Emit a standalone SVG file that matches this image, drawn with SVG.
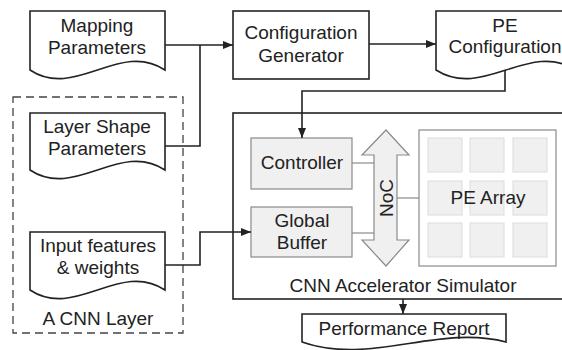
<svg xmlns="http://www.w3.org/2000/svg" width="562" height="350" viewBox="0 0 562 350">
  <style>
    text { font-family: "Liberation Sans", Arial, sans-serif; font-size: 19px; fill: #222; text-anchor: middle; }
    .doc { fill: #fff; stroke: #222; stroke-width: 1.6; }
    .box { fill: #fff; stroke: #222; stroke-width: 1.6; }
    .unit { fill: #f0f0f0; stroke: #8a8a8a; stroke-width: 1.2; }
    .cell { fill: #f0f0f0; stroke: #dcdcdc; stroke-width: 1; }
    .wire { fill: none; stroke: #222; stroke-width: 1.6; }
    .link { fill: none; stroke: #8a8a8a; stroke-width: 1.2; }
    .group { fill: none; stroke: #444; stroke-width: 1.3; stroke-dasharray: 8 5; }
  </style>
  <defs>
    <marker id="arrow" markerWidth="10" markerHeight="8" refX="10" refY="4" orient="auto" markerUnits="userSpaceOnUse">
      <path d="M0,0 L10,4 L0,8 Z" fill="#222"/>
    </marker>
  </defs>

  <!-- dashed frame around the layer inputs -->
  <g id="cnn-layer">
    <rect class="group" x="13" y="97" width="170" height="236"/>
    <text x="98" y="325">A CNN Layer</text>
  </g>

  <g id="mapping-parameters">
    <path class="doc" d="M30,11 H165 V70 C120,40 75,100 30,70 Z"/>
    <text x="97" y="32">Mapping</text>
    <text x="97" y="54">Parameters</text>
  </g>

  <g id="layer-shape-parameters">
    <path class="doc" d="M30,113 H165 V170 C120,140 75,200 30,170 Z"/>
    <text x="97" y="133">Layer Shape</text>
    <text x="97" y="155">Parameters</text>
  </g>

  <g id="input-features">
    <path class="doc" d="M30,232 H165 V290 C120,260 75,320 30,290 Z"/>
    <text x="98" y="252">Input features</text>
    <text x="98" y="274">&amp; weights</text>
  </g>

  <g id="configuration-generator">
    <rect class="box" x="233" y="11" width="136" height="68"/>
    <text x="301" y="39">Configuration</text>
    <text x="301" y="62">Generator</text>
  </g>

  <g id="pe-configuration">
    <path class="doc" d="M436,11 H576 V70 C529,40 483,100 436,70 Z"/>
    <text x="505" y="32">PE</text>
    <text x="505" y="53">Configuration</text>
  </g>

  <g id="accelerator-simulator">
    <rect class="box" x="233" y="113" width="350" height="186"/>
    <text x="403" y="292">CNN Accelerator Simulator</text>
  </g>

  <g id="controller">
    <rect class="unit" x="251" y="138" width="101" height="51"/>
    <text x="302" y="169">Controller</text>
  </g>

  <g id="global-buffer">
    <rect class="unit" x="251" y="207" width="101" height="50"/>
    <text x="302" y="227">Global</text>
    <text x="302" y="249">Buffer</text>
  </g>

  <g id="noc">
    <polygon class="unit" points="386,130 409,155 397,155 397,240 409,240 386,266 362,240 374,240 374,155 362,155"/>
    <text transform="translate(393,198) rotate(-90)">NoC</text>
  </g>

  <g id="pe-array">
    <rect x="419" y="130" width="137" height="136" fill="#fff" stroke="#8a8a8a" stroke-width="1.2"/>
    <rect class="cell" x="428" y="138" width="34" height="34"/>
    <rect class="cell" x="470" y="138" width="34" height="34"/>
    <rect class="cell" x="513" y="138" width="34" height="34"/>
    <rect class="cell" x="428" y="181" width="34" height="34"/>
    <rect class="cell" x="470" y="181" width="34" height="34"/>
    <rect class="cell" x="513" y="181" width="34" height="34"/>
    <rect class="cell" x="428" y="223" width="34" height="34"/>
    <rect class="cell" x="470" y="223" width="34" height="34"/>
    <rect class="cell" x="513" y="223" width="34" height="34"/>
    <text x="488" y="204">PE Array</text>
  </g>

  <g id="performance-report">
    <path class="doc" d="M302,314 H506 V342 C438,324 370,366 302,342 Z"/>
    <text x="404" y="335">Performance Report</text>
  </g>

  <g id="connectors">
    <path class="wire" d="M165,45 H233" marker-end="url(#arrow)"/>
    <path class="wire" d="M165,146 H200 V45"/>
    <path class="wire" d="M369,44 H436" marker-end="url(#arrow)"/>
    <path class="wire" d="M505,71 V91 H302 V138" marker-end="url(#arrow)"/>
    <path class="wire" d="M165,265 H200 V232 H251" marker-end="url(#arrow)"/>
    <path class="wire" d="M403,299 V314" marker-end="url(#arrow)"/>
    <path class="link" d="M352,163 H374"/>
    <path class="link" d="M352,233 H374"/>
    <path class="link" d="M397,198 H419"/>
  </g>
</svg>
